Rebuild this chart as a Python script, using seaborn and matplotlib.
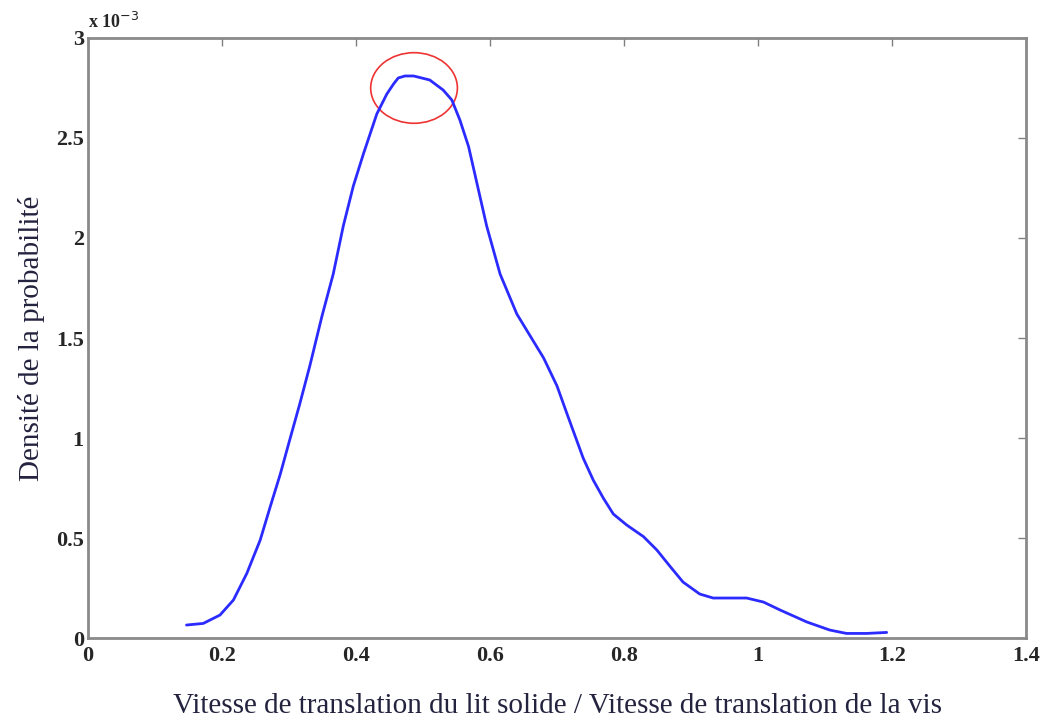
import matplotlib.pyplot as plt
import pandas as pd
import seaborn as sns
from matplotlib.patches import Ellipse

# ratio of translation speeds (x) and probability density (y, in units of 1e-3)
ratio = [0.147, 0.172, 0.197, 0.217, 0.237, 0.257, 0.272, 0.287, 0.301, 0.316,
         0.331, 0.349, 0.366, 0.381, 0.396, 0.411, 0.431, 0.446, 0.456, 0.463,
         0.473, 0.486, 0.51, 0.53, 0.543, 0.555, 0.568, 0.578, 0.595, 0.615,
         0.64, 0.66, 0.68, 0.70, 0.715, 0.739, 0.754, 0.769, 0.784, 0.804,
         0.829, 0.849, 0.869, 0.888, 0.913, 0.933, 0.958, 0.983, 1.008, 1.033,
         1.073, 1.107, 1.132, 1.162, 1.192]
density = [0.065, 0.073, 0.115, 0.19, 0.323, 0.49, 0.657, 0.82, 0.99, 1.17,
           1.36, 1.607, 1.82, 2.06, 2.26, 2.42, 2.62, 2.72, 2.77, 2.80,
           2.81, 2.81, 2.79, 2.74, 2.69, 2.59, 2.457, 2.31, 2.06, 1.82,
           1.62, 1.51, 1.40, 1.26, 1.12, 0.90, 0.79, 0.70, 0.62, 0.565,
           0.507, 0.44, 0.357, 0.28, 0.22, 0.20, 0.20, 0.20, 0.18, 0.14,
           0.08, 0.04, 0.023, 0.023, 0.028]

xticks = [0, 0.2, 0.4, 0.6, 0.8, 1, 1.2, 1.4]
yticks = [0, 0.5, 1, 1.5, 2, 2.5, 3]
xtick_labels = ["0", "0.2", "0.4", "0.6", "0.8", "1", "1.2", "1.4"]
ytick_labels = ["0", "0.5", "1", "1.5", "2", "2.5", "3"]

sns.set_style("white")
plt.rcParams['font.family'] = ['Liberation Serif', 'DejaVu Serif']

df = pd.DataFrame({"ratio": ratio, "density": density})

fig = plt.figure(figsize=(10.44, 7.22), dpi=100)
ax = fig.add_axes([0.0843, 0.1163, 0.8985, 0.8311])
sns.lineplot(data=df, x="ratio", y="density", sort=False, color="#2b2bff",
             linewidth=2, ax=ax)

# highlight the peak
ax.add_patch(Ellipse((0.4866, 2.75), 0.1294, 0.353, fill=False,
                     edgecolor="#ee3333", linewidth=1.2))

ax.set_xlim(0, 1.4)
ax.set_ylim(0, 3)
ax.set_xticks(xticks)
ax.set_xticklabels(xtick_labels, fontweight="bold", fontsize=16)
ax.set_yticks(yticks)
ax.set_yticklabels(ytick_labels, fontweight="bold", fontsize=16)
ax.tick_params(direction="in", length=6, width=1, color="#808080",
               top=True, right=True, pad=3)
ax.tick_params(axis="x", pad=6)

for side in ax.spines.values():
    side.set_color("#8a8a8a")
    side.set_linewidth(2)

ax.text(0.0, 3.03, "x 10$^{-3}$", fontsize=13, fontweight="bold",
        transform=ax.transData, ha="left", va="bottom")

ax.set_xlabel("Vitesse de translation du lit solide / Vitesse de translation de la vis",
              fontsize=21, color="#23233f", labelpad=19)
ax.set_ylabel("Densité de la probabilité", fontsize=21, color="#23233f",
              labelpad=8)

fig.savefig("out.png", dpi=100)
